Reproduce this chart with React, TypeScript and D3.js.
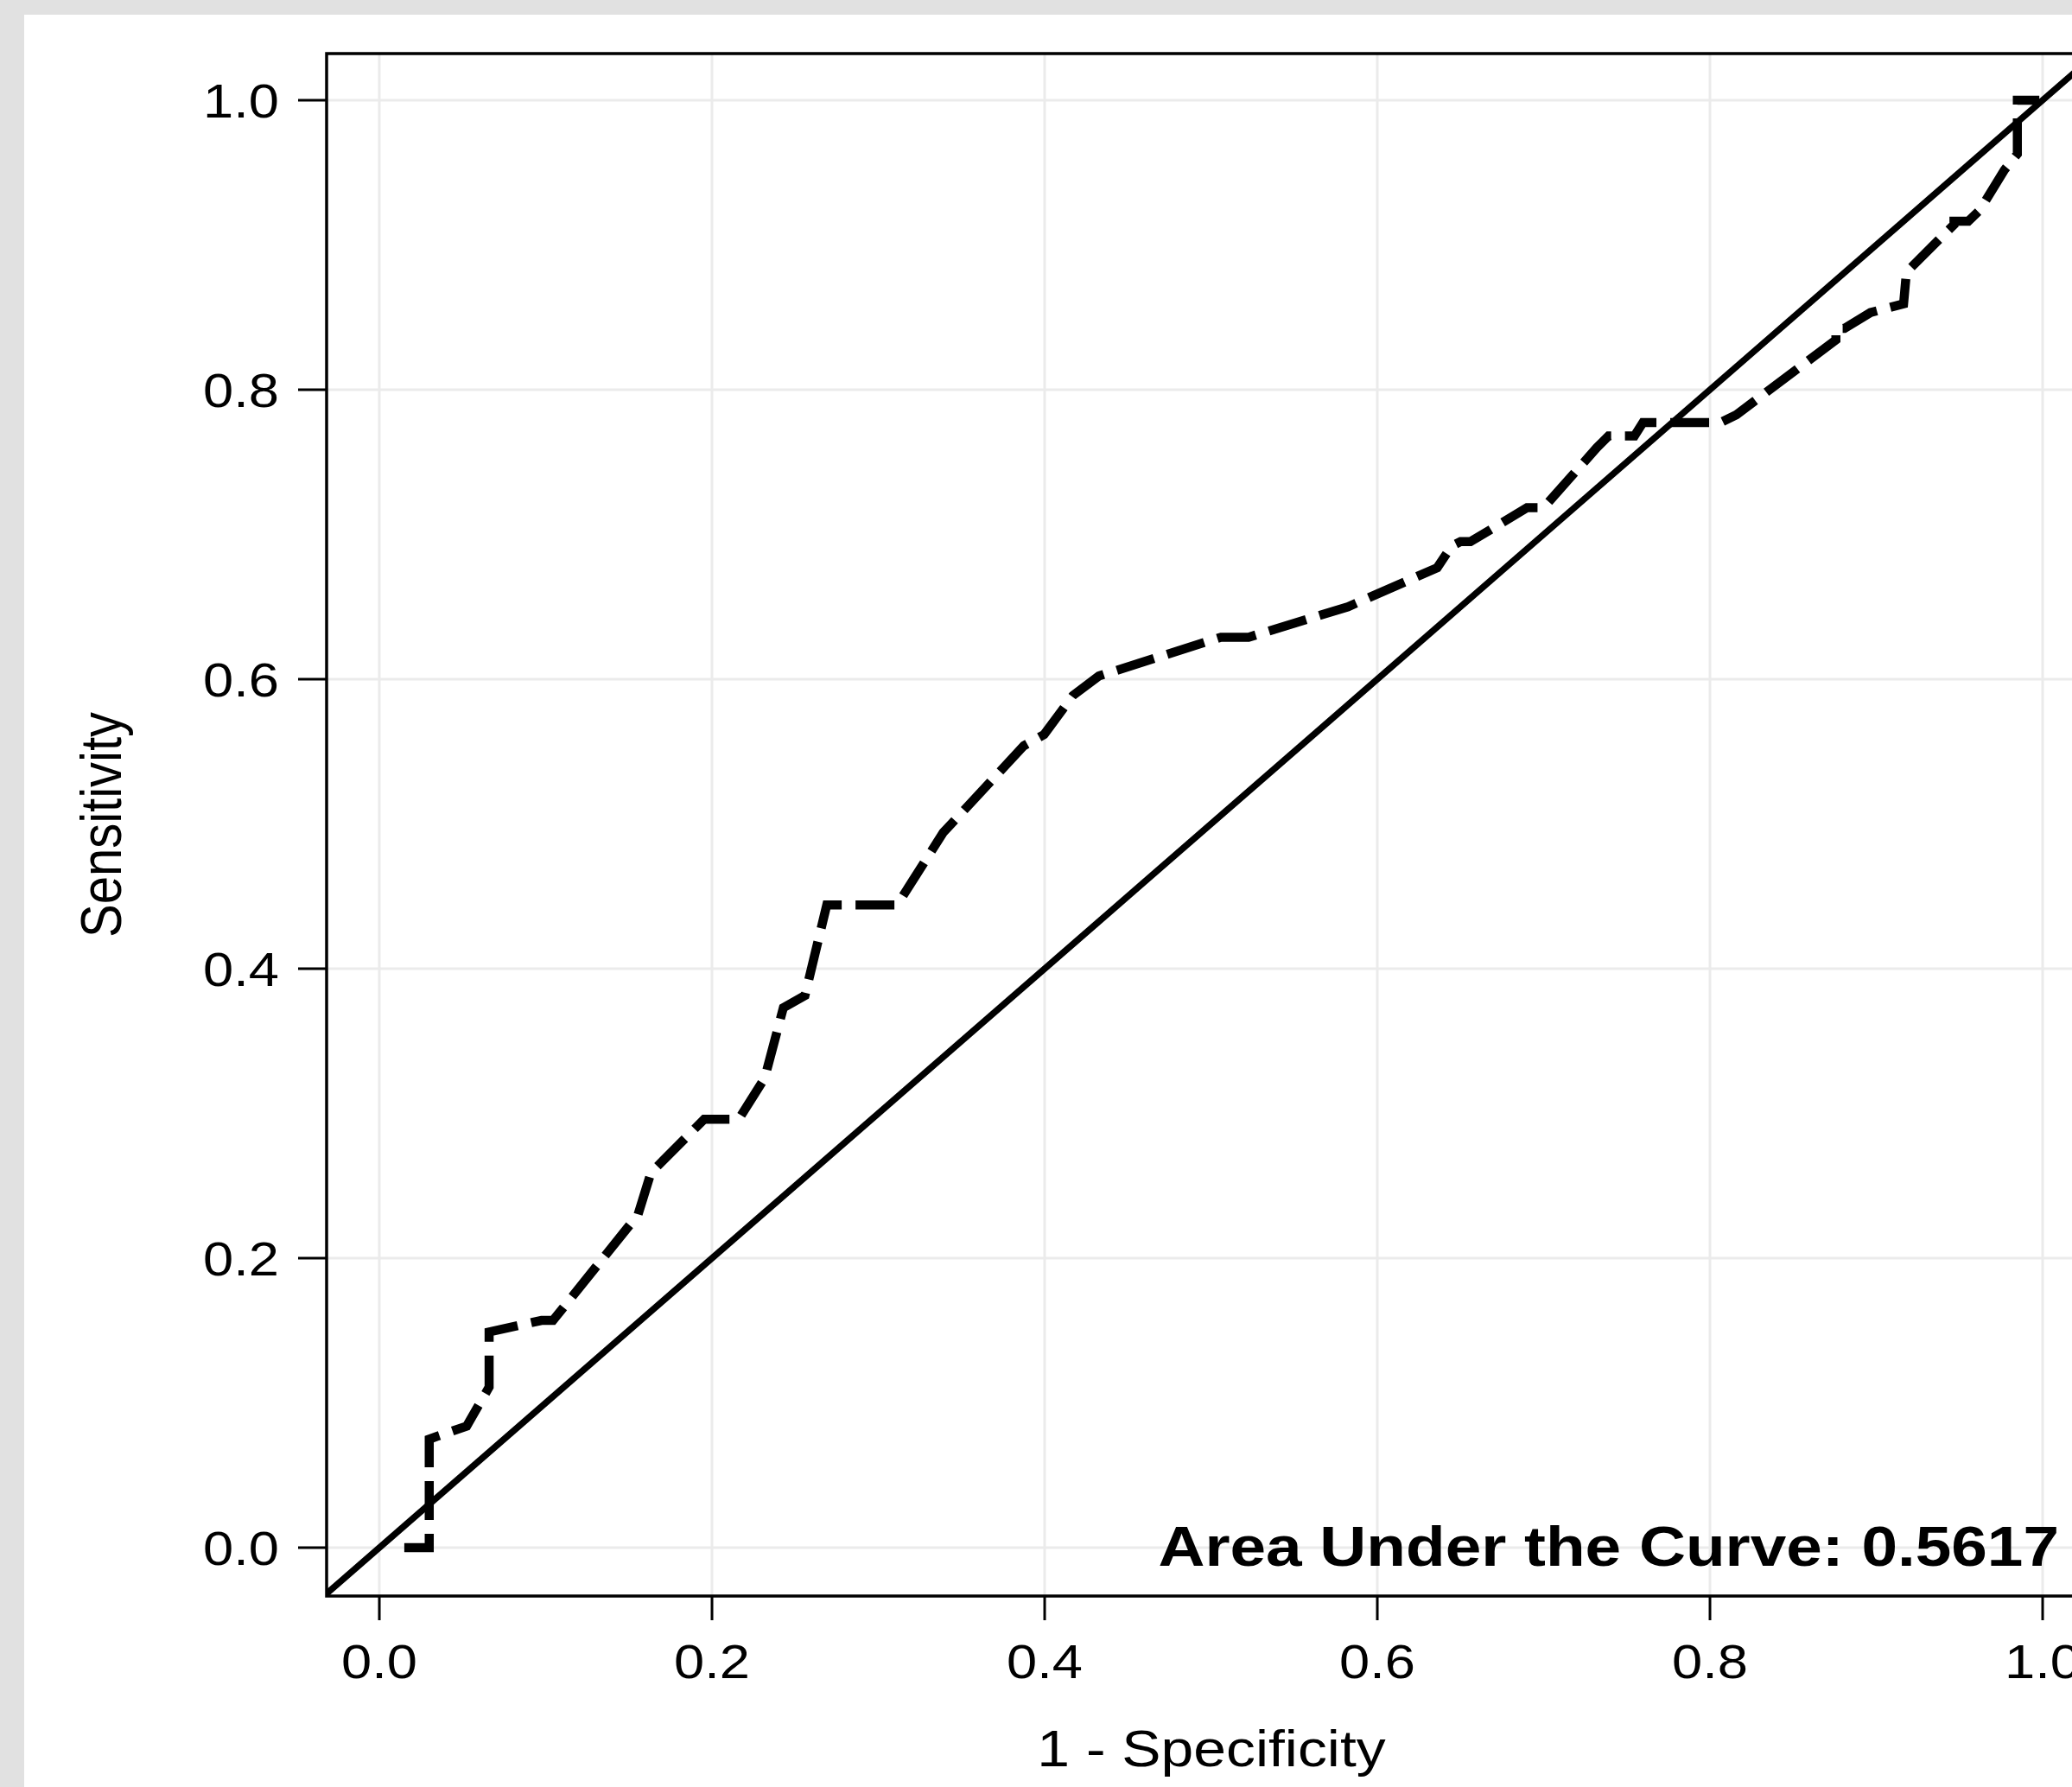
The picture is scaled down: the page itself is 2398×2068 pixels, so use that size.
import React from 'react';
import * as d3 from 'd3';

// ROC curve: 1 - specificity vs sensitivity
const fpr = [
  0.015, 0.03, 0.03, 0.0525, 0.066, 0.066, 0.0975, 0.1044, 0.1555, 0.1633,
  0.1953, 0.2161, 0.2317, 0.2429, 0.2559, 0.269, 0.3113, 0.339, 0.3875, 0.3997,
  0.417, 0.4326, 0.506, 0.5226, 0.5823, 0.636, 0.6447, 0.65, 0.656, 0.69,
  0.7, 0.732, 0.739, 0.7546, 0.7597, 0.8064, 0.8159, 0.8757, 0.8757, 0.8809,
  0.8965, 0.9164, 0.9181, 0.9467, 0.9467, 0.9553, 0.9622, 0.977, 0.9848, 0.9848,
  0.998,
];
const tpr = [
  0, 0, 0.075, 0.084, 0.111, 0.149, 0.157, 0.157, 0.23, 0.259,
  0.296, 0.296, 0.3245, 0.373, 0.3815, 0.444, 0.444, 0.494, 0.554, 0.5618,
  0.5887, 0.6022, 0.629, 0.629, 0.65, 0.677, 0.692, 0.695, 0.695, 0.7185,
  0.7185, 0.76, 0.768, 0.768, 0.7773, 0.7773, 0.7827, 0.8344, 0.8424, 0.8424,
  0.8533, 0.8593, 0.8812, 0.914, 0.9164, 0.9164, 0.924, 0.9518, 0.9628, 1.0,
  1.0,
];
const diagonal = [-0.05, 1.05];
const tickValues = [0, 0.2, 0.4, 0.6, 0.8, 1.0];
const tickLabels = ['0.0', '0.2', '0.4', '0.6', '0.8', '1.0'];
const aucLabel = 'Area Under the Curve: 0.5617';

const W = 2398;
const H = 2068;
const panel = { left: 378, top: 62, right: 2426, bottom: 1847 };
const stretch = 1.15; // the source picture is a little wider than its fonts
const font = '"Liberation Sans", Arial, Helvetica, sans-serif';

const App = () => {
  const x = d3.scaleLinear().domain([-0.0317, 1.0322]).range([panel.left, panel.right]);
  const y = d3.scaleLinear().domain([-0.0334, 1.0322]).range([panel.bottom, panel.top]);

  const pts = fpr.map((f, i) => [f, tpr[i]] as [number, number]);
  const line = d3
    .line<[number, number]>()
    .x(d => x(d[0]))
    .y(d => y(d[1]));

  const label = (tx: number, ty: number, text: string, size: number, anchor: string, extra: any = {}) => (
    <text
      transform={`translate(${tx},${ty}) scale(${stretch},1)`}
      fontSize={size}
      fontFamily={font}
      textAnchor={anchor}
      fill="#000"
      {...extra}
    >
      {text}
    </text>
  );

  return (
    <svg
      width={W}
      height={H}
      style={{ position: 'absolute', left: 0, top: 0, display: 'block' }}
    >
      <defs>
        <clipPath id="panel-clip">
          <rect
            x={panel.left}
            y={panel.top}
            width={panel.right - panel.left}
            height={panel.bottom - panel.top}
          />
        </clipPath>
      </defs>
      <rect width={W} height={H} fill="#e1e1e1" />
      <rect x={28} y={17} width={W - 28} height={H - 17} fill="#fff" />

      <g clipPath="url(#panel-clip)">
        {tickValues.map(v => (
          <line key={'gx' + v} x1={x(v)} x2={x(v)} y1={panel.top} y2={panel.bottom} stroke="#ebebeb" strokeWidth={3} />
        ))}
        {tickValues.map(v => (
          <line key={'gy' + v} x1={panel.left} x2={panel.right} y1={y(v)} y2={y(v)} stroke="#ebebeb" strokeWidth={3} />
        ))}
        <line
          x1={x(diagonal[0])}
          y1={y(diagonal[0])}
          x2={x(diagonal[1])}
          y2={y(diagonal[1])}
          stroke="#000"
          strokeWidth={7.5}
        />
        <path
          d={line(pts) || ''}
          fill="none"
          stroke="#000"
          strokeWidth={10.5}
          strokeDasharray="45 16"
          strokeLinejoin="miter"
        />
      </g>

      <rect
        x={panel.left}
        y={panel.top}
        width={panel.right - panel.left}
        height={panel.bottom - panel.top}
        fill="none"
        stroke="#000"
        strokeWidth={3.5}
      />

      {/* x axis */}
      {tickValues.map((v, i) => (
        <g key={'tx' + v}>
          <line x1={x(v)} x2={x(v)} y1={panel.bottom} y2={panel.bottom + 28} stroke="#000" strokeWidth={3} />
          {label(x(v), 1942, tickLabels[i], 55, 'middle')}
        </g>
      ))}
      {/* y axis */}
      {tickValues.map((v, i) => (
        <g key={'ty' + v}>
          <line x1={panel.left - 33} x2={panel.left} y1={y(v)} y2={y(v)} stroke="#000" strokeWidth={3} />
          {label(323, y(v) + 20, tickLabels[i], 55, 'end')}
        </g>
      ))}

      {label((panel.left + panel.right) / 2, 2044, '1 - Specificity', 59, 'middle')}
      <text
        transform={`translate(140,${(panel.top + panel.bottom) / 2}) scale(${stretch},1) rotate(-90)`}
        fontSize={58}
        fontFamily={font}
        textAnchor="middle"
        fill="#000"
      >
        Sensitivity
      </text>

      {label(2383, 1812, aucLabel, 65, 'end', { fontWeight: 'bold' })}
    </svg>
  );
};

export default App;
